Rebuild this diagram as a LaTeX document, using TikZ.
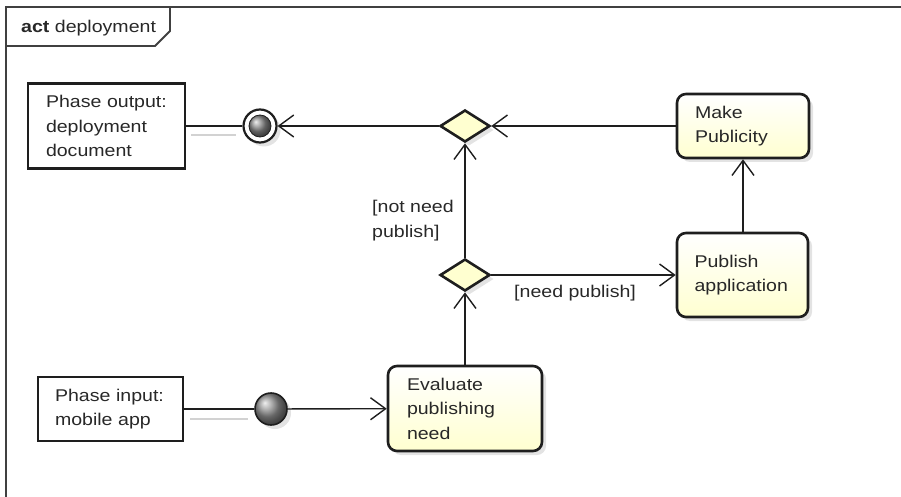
\documentclass[tikz,border=0pt]{standalone}
\usepackage{fontspec}
\setmainfont{Liberation Sans}[FakeStretch=1.15]
\usetikzlibrary{arrows.meta,shapes.geometric,shadows,calc}
\definecolor{actfill}{RGB}{255,255,208}
\definecolor{ink}{RGB}{30,30,30}
\definecolor{txt}{RGB}{40,40,40}
\begin{document}
\begin{tikzpicture}[x=1pt,y=-1pt,
  font=\fontsize{17}{24.5}\selectfont,
  every node/.style={text=txt},
  shad/.style={drop shadow={shadow xshift=4pt,shadow yshift=-4pt,opacity=0.22,fill=gray}},
  action/.style={draw=ink, line width=2.6pt, rounded corners=9pt, top color=white,
    bottom color=actfill, shad, align=left, inner xsep=0pt, inner ysep=0pt},
  phase/.style={draw=ink, line width=2.6pt, fill=white, align=left, inner xsep=0pt, inner ysep=0pt},
  decision/.style={diamond, draw=ink, line width=2.6pt, fill=actfill, minimum width=50pt,
    minimum height=32pt, inner sep=0pt, shad},
  conn/.style={draw=ink, line width=1.4pt},
  flow/.style={conn, -{Straight Barb[length=15pt,width=22pt,line width=1.4pt]}},
  objshadow/.style={draw=gray!35, line width=1.4pt},
  guard/.style={align=left, inner sep=0pt, anchor=west}
]
\useasboundingbox (0,0) rectangle (901,497);
% frame
\draw[line width=1.8pt, ink!85] (6,498) -- (6,7) -- (902,7);
\draw[line width=1.8pt, ink!85] (6,46) -- (155,46) -- (170,31) -- (170,7);
\node[anchor=west, inner sep=0pt] (title) at (21,28) {\textbf{act} deployment};

% nodes
\node[phase, minimum width=157pt, minimum height=85pt, text width=121pt] (po) at (106.5,126)
  {\mbox{Phase output:}\\deployment\\document};
\node[circle, draw=ink, line width=2.2pt, fill=white, minimum size=33pt, inner sep=0pt, shad] (fin) at (260,126) {};
\node[circle, draw=ink, line width=0.8pt, shading=ball, ball color=gray!90, minimum size=22pt, inner sep=0pt] (finin) at (fin) {};
\node[decision] (d1) at (465,126) {};
\node[action, minimum width=132pt, minimum height=64pt, text width=96pt] (mp) at (743,126)
  {Make\\Publicity};
\node[action, minimum width=131pt, minimum height=84pt, text width=96pt] (pa) at (742.5,275)
  {Publish\\application};
\node[decision] (d2) at (465,275) {};
\node[action, minimum width=154pt, minimum height=85pt, text width=116pt] (ev) at (465,408.5)
  {Evaluate\\publishing\\need};
\node[phase, minimum width=145pt, minimum height=64pt, text width=111pt] (pi) at (110.5,409)
  {\mbox{Phase input:}\\mobile app};
\node[circle, draw=ink, line width=1.6pt, minimum size=32pt, inner sep=0pt, shading=ball,
  ball color=gray!85, shad] (init) at (271,409) {};

\node[guard] (g1) at (372,220.5) {[not need\\publish]};
\node[guard] (g2) at (514,293) {[need publish]};

% object flow shadows
\draw[objshadow] ($(po.east)+(5,9)$) -- ($(fin.west)+(-6,9)$);
\draw[objshadow] ($(pi.east)+(6,10)$) -- ($(init.west)+(-6,10)$);

% connectors
\draw[conn] (po) -- (fin);
\draw[flow] (d1) -- (fin);
\draw[flow] (mp) -- (d1);
\draw[flow] (d2) -- (d1);
\draw[flow] (d2) -- (pa);
\draw[flow] (pa.north -| mp.south) -- (mp.south);
\draw[flow] (ev) -- (d2);
\draw[conn] (pi) -- (init);
\draw[flow] (init) -- (ev);
\end{tikzpicture}
\end{document}
